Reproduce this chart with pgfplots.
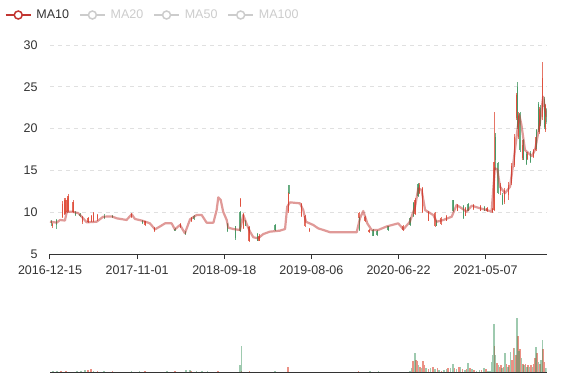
\documentclass[border=0pt]{standalone}
\usepackage{pgfplots}
\pgfplotsset{compat=1.18}
\usepackage{pgfplotstable}
\usepackage{fontspec}
\setmainfont{Liberation Sans}
\definecolor{upc}{RGB}{222,72,52}
\definecolor{downc}{RGB}{62,150,95}
\definecolor{malc}{HTML}{C23531}
\definecolor{txt}{HTML}{333333}
\definecolor{off}{HTML}{CCCCCC}
\definecolor{gridc}{HTML}{E0E0E0}

% MA10 line (x = trading-day index, y = price)
\pgfplotstableread{
x y
0 8.86
25 8.75
37 9.07
55 9.00
62 10.06
80 10.06
104 9.90
117 9.46
135 8.79
172 8.86
196 9.46
227 9.50
246 9.27
282 9.07
301 9.75
313 9.19
344 8.95
368 8.67
387 7.95
405 8.29
424 8.67
448 8.67
460 7.95
479 8.47
497 7.48
516 9.15
540 9.66
559 9.66
577 8.75
602 8.75
614 10.26
620 11.78
629 11.46
638 10.06
651 9.07
657 8.15
675 7.99
700 7.87
712 9.66
725 8.55
737 7.67
749 7.00
767 6.88
786 7.39
810 7.67
847 7.79
866 7.99
874 10.66
884 11.18
921 11.06
933 10.26
943 8.86
970 8.47
988 8.07
1007 7.87
1032 7.60
1130 7.60
1142 9.27
1154 10.14
1169 8.67
1185 7.87
1209 7.87
1240 8.29
1283 8.67
1302 7.95
1326 8.86
1345 10.66
1357 12.86
1369 12.66
1382 10.26
1412 9.66
1425 8.86
1449 9.07
1480 9.46
1498 10.86
1517 10.47
1535 10.06
1554 10.78
1584 10.47
1609 10.26
1627 10.06
1639 15.25
1648 15.13
1658 13.05
1676 12.26
1695 13.05
1707 15.85
1719 19.03
1729 21.63
1737 20.43
1750 17.44
1775 16.72
1787 17.44
1803 20.23
1817 23.82
1824 22.22
1830 21.42
}\ma

% rising candles: x open close low high
\pgfplotstableread{
x o c l h
10 8.3 8.6 8.1 8.7
45 9.4 11.0 9.3 11.3
52 9.8 11.5 9.7 11.7
58 9.9 11.4 9.8 11.7
62 10.0 11.5 9.9 11.7
66 10.1 11.9 10.0 12.2
85 10.0 11.2 9.9 11.4
120 8.8 9.4 8.6 9.5
140 8.8 9.3 8.7 9.4
152 8.9 9.6 8.8 9.7
161 9.0 9.9 8.8 10.0
175 9.2 9.7 9.0 9.8
300 9.4 9.8 9.3 9.9
350 8.5 8.9 8.4 9.0
385 7.7 8.1 7.6 8.2
480 8.2 8.6 8.1 8.7
520 8.9 9.3 8.8 9.4
702 10.7 11.6 10.6 11.7
712 8.1 9.8 8.0 9.9
733 6.5 8.2 6.4 8.3
770 6.6 7.2 6.5 7.4
878 10.1 12.3 9.9 12.4
927 9.5 11.0 9.4 11.1
939 8.3 9.6 8.2 9.7
955 7.7 8.0 7.6 8.1
1138 9.3 9.9 9.2 10.0
1160 8.9 9.4 8.8 9.5
1175 7.6 7.9 7.5 8.0
1300 7.9 8.4 7.8 8.5
1345 9.8 11.5 9.7 11.7
1362 12.3 13.3 12.2 13.5
1372 10.0 12.9 9.9 13.0
1395 9.0 10.0 8.9 10.1
1418 8.3 9.9 8.2 10.0
1440 8.6 9.3 8.5 9.4
1460 9.0 9.6 8.9 9.7
1500 10.2 10.9 10.1 11.0
1530 9.6 10.5 9.5 10.6
1560 10.4 10.9 10.3 11.0
1585 10.2 10.8 10.1 10.9
1610 10.1 10.5 10.0 10.6
1630 10.0 10.4 9.9 10.5
1636 10.3 16.0 10.2 22.0
1660 12.5 13.3 12.0 13.5
1675 11.2 12.6 11.0 12.9
1690 12.0 13.2 11.5 13.6
1700 13.5 15.5 13.3 15.9
1711 15.6 19.0 15.4 19.3
1718 21.3 24.0 21.0 24.3
1726 19.0 21.5 18.8 22.0
1740 16.5 18.0 16.3 18.6
1760 16.4 17.0 16.3 17.2
1780 16.6 17.4 16.5 17.6
1790 17.5 19.0 17.3 19.3
1803 19.6 22.4 19.4 22.6
1815 21.4 26.0 21.0 28.0
1826 19.8 22.8 19.6 23.0
}\upcandles

% falling candles: x open close low high
\pgfplotstableread{
x o c l h
5 9.0 8.7 8.3 9.1
25 9.1 8.5 8.0 9.2
95 10.0 9.7 9.6 10.1
110 9.8 9.5 9.4 9.9
200 9.6 9.3 9.2 9.8
230 9.6 9.4 9.3 9.7
340 9.0 8.7 8.6 9.1
460 8.0 7.8 7.7 8.1
500 7.6 7.4 7.3 7.7
530 9.6 9.2 9.1 9.7
653 8.6 7.7 7.6 8.7
684 8.3 6.9 6.7 8.3
700 10.0 7.7 7.6 10.1
720 9.0 8.4 8.3 9.1
764 7.4 6.6 6.5 7.5
829 8.5 7.9 7.8 8.6
880 13.2 12.3 12.2 13.25
1140 9.3 7.9 7.8 9.4
1190 7.9 7.2 7.1 8.0
1205 7.8 7.3 7.2 7.9
1245 8.3 7.9 7.8 8.4
1326 9.3 8.5 8.4 9.4
1338 11.1 9.5 9.4 11.2
1356 13.4 11.9 11.8 13.5
1425 9.0 8.4 8.3 9.1
1485 11.4 10.1 10.0 11.5
1522 10.8 9.3 9.2 10.9
1540 11.0 10.2 10.1 11.1
1600 10.6 10.2 10.1 10.7
1640 19.0 16.3 15.0 19.5
1650 15.9 12.3 12.2 16.0
1668 12.0 11.0 10.9 12.3
1722 25.0 20.2 20.0 25.6
1731 21.9 17.4 17.2 22.0
1745 18.6 16.3 16.2 18.8
1755 17.0 15.8 15.6 17.2
1770 17.1 16.0 15.9 17.3
1793 19.8 17.8 17.6 20.0
1799 23.0 19.8 19.6 23.2
1808 22.5 20.5 20.3 22.8
1822 23.6 20.2 20.0 23.8
1830 22.4 20.8 20.6 22.5
}\downcandles

% volumes on rising days
\pgfplotstableread{
x v
40 2
60 3
140 4
150 5
175 3
230 2
350 2
460 3
520 3
620 2
705 2
735 3
877 10
1137 3
1338 20
1348 22
1353 19
1363 10
1375 20
1380 13
1394 6
1410 9
1427 7
1443 3
1467 7
1491 7
1506 9
1520 6
1535 6
1547 7
1562 4
1590 4
1606 6
1637 46
1647 16
1657 10
1661 12
1671 10
1682 15
1692 12
1702 22
1707 42
1717 30
1725 64
1732 40
1742 15
1752 14
1762 12
1772 12
1782 15
1787 25
1795 33
1805 14
1817 40
1822 18
}\upvol

% volumes on falling days
\pgfplotstableread{
x v
10 2
25 3
100 3
115 3
130 4
160 3
200 2
300 2
330 2
430 3
500 4
515 4
540 2
560 3
580 2
700 12
706 46
830 2
1180 2
1210 2
1326 3
1332 8
1345 34
1358 12
1369 8
1385 8
1402 8
1418 5
1434 4
1452 4
1461 5
1476 8
1484 15
1498 6
1513 10
1528 4
1541 17
1555 5
1572 3
1582 4
1599 8
1614 3
1621 3
1627 18
1632 30
1635 85
1642 30
1652 12
1666 8
1677 33
1687 10
1697 36
1712 42
1721 95
1729 38
1737 25
1747 12
1757 10
1767 9
1777 10
1790 44
1800 18
1810 22
1815 57
1827 8
1830 6
}\downvol

\begin{document}
\begin{tikzpicture}
\useasboundingbox (-50bp,-126bp) rectangle (527bp,254bp);
\begin{axis}[
  at={(0,0)}, anchor=south west, scale only axis,
  width=496.7bp, height=209bp,
  xmin=0, xmax=1830, ymin=5, ymax=30,
  xtick={0,321,642,963,1284,1605},
  xticklabels={2016-12-15,2017-11-01,2018-09-18,2019-08-06,2020-06-22,2021-05-07},
  ytick={5,10,...,30},
  axis lines*=left,
  y axis line style={draw=none},
  x axis line style={draw=txt, line width=1bp},
  tick align=outside,
  major tick length=5bp,
  xtick style={draw=txt, line width=1bp},
  ytick style={draw=none},
  ymajorgrids,
  major grid style={draw=gridc, line width=0.8bp, dash pattern=on 4bp off 4bp},
  tick label style={font=\fontsize{12.5bp}{14bp}\selectfont, text=txt},
  /pgf/number format/assume math mode=true,
  yticklabel style={anchor=east, inner sep=0pt, xshift=-7.3bp},
  xticklabel style={anchor=north, inner sep=0pt, yshift=-7bp},
  legend columns=4,
  legend style={at={(axis description cs:-0.0906,1.1435)}, anchor=west,
    draw=none, fill=none, inner sep=0pt, outer sep=0pt,
    font=\fontsize{12.5bp}{14bp}\selectfont,
    nodes={inner sep=0pt, text=txt},
    /tikz/every odd column/.append style={column sep=5bp},
    /tikz/every even column/.append style={column sep=10bp}},
  legend image code/.code={\draw[#1] (0bp,0bp) -- (25bp,0bp);
    \draw[#1, fill=white] (12.5bp,0bp) circle (4bp);},
]
% candle wicks
\addplot[forget plot, draw=none, mark=none, error bars/.cd, y dir=both, y explicit, error mark=none,
  error bar style={draw=upc, line width=0.6bp, opacity=0.75}]
  table[x=x, y expr={(\thisrow{l}+\thisrow{h})/2}, y error expr={(\thisrow{h}-\thisrow{l})/2}]{\upcandles};
\addplot[forget plot, draw=none, mark=none, error bars/.cd, y dir=both, y explicit, error mark=none,
  error bar style={draw=downc, line width=0.6bp, opacity=0.75}]
  table[x=x, y expr={(\thisrow{l}+\thisrow{h})/2}, y error expr={(\thisrow{h}-\thisrow{l})/2}]{\downcandles};
% candle bodies
\addplot[forget plot, draw=none, mark=none, error bars/.cd, y dir=both, y explicit, error mark=none,
  error bar style={draw=upc, line width=1.2bp, opacity=0.8}]
  table[x=x, y expr={(\thisrow{o}+\thisrow{c})/2}, y error expr={abs(\thisrow{c}-\thisrow{o})/2}]{\upcandles};
\addplot[forget plot, draw=none, mark=none, error bars/.cd, y dir=both, y explicit, error mark=none,
  error bar style={draw=downc, line width=1.2bp, opacity=0.8}]
  table[x=x, y expr={(\thisrow{o}+\thisrow{c})/2}, y error expr={abs(\thisrow{c}-\thisrow{o})/2}]{\downcandles};
% MA10
\addplot[forget plot, draw=malc, draw opacity=0.5, line width=2.2bp, line join=round, mark=none] table[x=x,y=y]{\ma};
\addlegendimage{draw=malc, line width=1.5bp}
\addlegendentry{MA10}
\addlegendimage{draw=off, line width=1.5bp}
\addlegendentry{\textcolor{off}{MA20}}
\addlegendimage{draw=off, line width=1.5bp}
\addlegendentry{\textcolor{off}{MA50}}
\addlegendimage{draw=off, line width=1.5bp}
\addlegendentry{\textcolor{off}{MA100}}
\end{axis}

\begin{axis}[
  at={(0,-118.3bp)}, anchor=south west, scale only axis,
  width=496.7bp, height=57.3bp,
  xmin=0, xmax=1830, ymin=0, ymax=100,
  axis lines*=left,
  y axis line style={draw=none},
  x axis line style={draw=txt, line width=1bp},
  xtick=\empty, ytick=\empty,
]
\addplot[ycomb, draw=upc, line width=1.6bp, opacity=0.6, mark=none] table[x=x,y=v]{\upvol};
\addplot[ycomb, draw=downc, line width=1.6bp, opacity=0.5, mark=none] table[x=x,y=v]{\downvol};
\end{axis}
\end{tikzpicture}
\end{document}
